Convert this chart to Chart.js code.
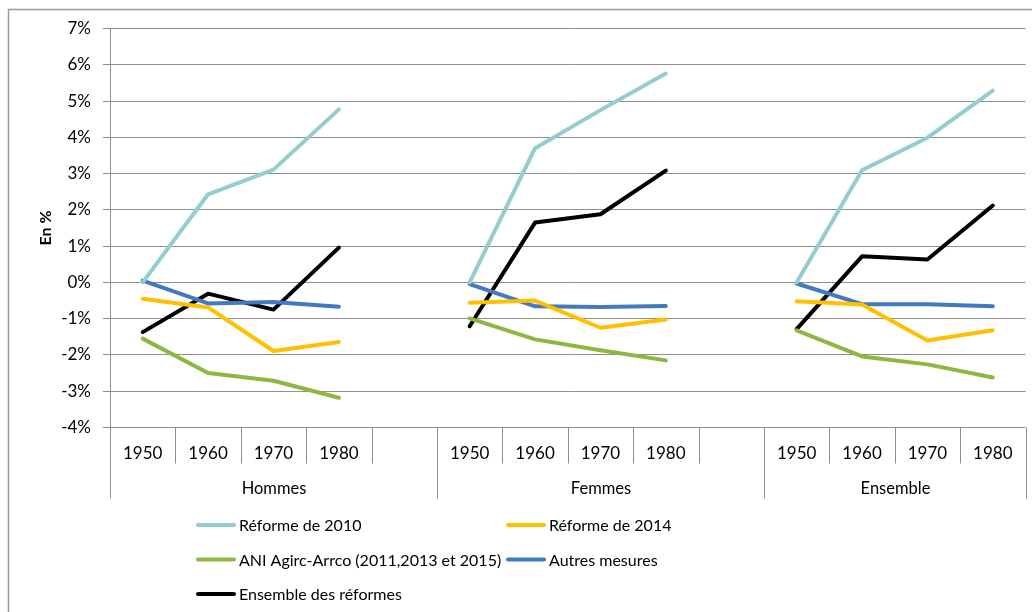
<!DOCTYPE html>
<html>
<head>
<meta charset="utf-8">
<script src="https://cdn.jsdelivr.net/npm/chart.js@4.4.1/dist/chart.umd.min.js"></script>
<style>
  html, body { margin: 0; padding: 0; background: #fff; }
  #wrap { width: 1032px; height: 612px; }
</style>
</head>
<body>
<div id="wrap"><canvas id="canvas"></canvas></div>
<script>
// categories: 3 groups of years, with an empty slot between groups
const categories = ['1950', '1960', '1970', '1980', '', '1950', '1960', '1970', '1980', '', '1950', '1960', '1970', '1980'];
const groupLabels = ['Hommes', 'Femmes', 'Ensemble'];
const groupSizes = [5, 5, 4];

const reforme2010 = [0, 2.43, 3.11, 4.77, null, 0, 3.7, 4.75, 5.76, null, 0, 3.09, 3.99, 5.29];
const reforme2014 = [-0.45, -0.69, -1.89, -1.64, null, -0.56, -0.5, -1.25, -1.02, null, -0.52, -0.61, -1.6, -1.32];
const aniAgirc = [-1.55, -2.5, -2.71, -3.18, null, -0.99, -1.57, -1.87, -2.15, null, -1.32, -2.04, -2.26, -2.62];
const autresMesures = [0.05, -0.58, -0.54, -0.67, null, -0.05, -0.66, -0.68, -0.65, null, -0.03, -0.6, -0.6, -0.66];
const ensembleReformes = [-1.37, -0.31, -0.75, 0.96, null, -1.21, 1.65, 1.88, 3.08, null, -1.29, 0.72, 0.63, 2.12];

const FONT = 'Lato, "Open Sans", sans-serif';
const GRID = '#8e8e8e';

const canvas = document.getElementById('canvas');
const ctx = canvas.getContext('2d');

function ds(label, data, color) {
    return {
        label: label,
        data: data,
        borderColor: color,
        backgroundColor: color,
        borderWidth: 4,
        pointRadius: 0,
        borderCapStyle: 'round',
        borderJoinStyle: 'round',
        tension: 0,
        spanGaps: false
    };
}

// frame, category separators, group labels and legend
const decor = {
    id: 'decor',
    beforeDraw(chart) {
        const c = chart.ctx;
        c.save();
        c.strokeStyle = '#9a9a9a';
        c.lineWidth = 1.5;
        c.beginPath();
        c.moveTo(8.5, 612);
        c.lineTo(8.5, 9.5);
        c.lineTo(1032, 9.5);
        c.stroke();
        c.restore();
    },
    afterDraw(chart) {
        const c = chart.ctx;
        const x = chart.scales.x;
        const bottom = chart.chartArea.bottom;
        const half = (x.getPixelForValue(1) - x.getPixelForValue(0)) / 2;
        const edge = i => Math.round(x.getPixelForValue(i) - half) + 0.5;

        c.save();
        c.strokeStyle = GRID;
        c.lineWidth = 1;
        const groupEdges = [0];
        groupSizes.reduce((a, s) => { groupEdges.push(a + s); return a + s; }, 0);
        for (let i = 0; i <= categories.length; i++) {
            const len = groupEdges.includes(i) ? 71 : 36;
            c.beginPath();
            c.moveTo(edge(i), bottom);
            c.lineTo(edge(i), bottom + len);
            c.stroke();
        }

        c.fillStyle = '#000';
        c.font = '16.5px ' + FONT;
        c.textAlign = 'center';
        c.textBaseline = 'middle';
        groupLabels.forEach((g, k) => {
            const mid = (edge(groupEdges[k]) + edge(groupEdges[k + 1])) / 2;
            c.fillText(g, mid, bottom + 61);
        });

        // legend, two columns
        c.font = '16px ' + FONT;
        c.textAlign = 'left';
        chart.data.datasets.forEach((d, i) => {
            const col = i % 2;
            const row = Math.floor(i / 2);
            const lx = col ? 508 : 198;
            const ly = 525 + row * 34.5;
            c.strokeStyle = d.borderColor;
            c.lineWidth = 4;
            c.lineCap = 'round';
            c.beginPath();
            c.moveTo(lx, ly);
            c.lineTo(lx + 36, ly);
            c.stroke();
            c.fillText(d.label, lx + 41, ly + 1);
        });
        c.restore();
    }
};

const chart = new Chart(ctx, {
    type: 'line',
    data: {
        labels: categories,
        datasets: [
            ds('Réforme de 2010', reforme2010, '#93cdcd'),
            ds('Réforme de 2014', reforme2014, '#ffc000'),
            ds('ANI Agirc-Arrco (2011,2013 et 2015)', aniAgirc, '#8cb840'),
            ds('Autres mesures', autresMesures, '#4279bf'),
            ds('Ensemble des réformes', ensembleReformes, '#000000')
        ]
    },
    options: {
        responsive: true,
        maintainAspectRatio: false,
        animation: false,
        layout: { padding: { left: 0, top: 28.5, right: 6.5, bottom: 111.5 } },
        plugins: {
            legend: { display: false },
            tooltip: { enabled: false }
        },
        scales: {
            x: {
                offset: true,
                grid: { display: false },
                border: { display: false },
                ticks: {
                    color: '#000',
                    font: { family: FONT, size: 17 },
                    padding: 8,
                    maxRotation: 0,
                    autoSkip: false
                },
                afterFit(s) { s.height = 73; }
            },
            y: {
                min: -4,
                max: 7,
                grid: { color: GRID, lineWidth: 1, tickLength: 7 },
                border: { display: true, color: GRID },
                ticks: {
                    stepSize: 1,
                    color: '#000',
                    padding: 12,
                    font: { family: FONT, size: 17 },
                    callback: v => v + '%'
                },
                title: {
                    display: true,
                    text: 'En %',
                    color: '#000',
                    font: { family: FONT, size: 16, weight: 'bold' },
                    padding: { top: 36, bottom: 0 }
                },
                afterFit(s) { s.width = 110; }
            }
        }
    },
    plugins: [decor]
});
</script>
</body>
</html>
